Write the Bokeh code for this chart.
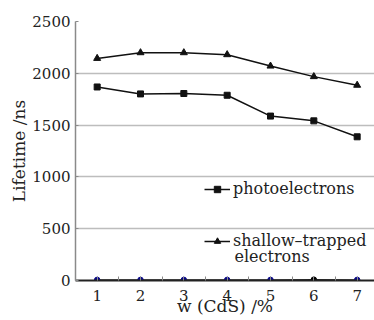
from bokeh.plotting import figure
from bokeh.models import (Range1d, FixedTicker, Legend, LegendItem, Label)
from bokeh.embed import file_html
from bokeh.resources import INLINE

# Data
w_cds = [1, 2, 3, 4, 5, 6, 7]
photoelectrons = [1868, 1801, 1805, 1788, 1587, 1541, 1387]
shallow_trapped = [2144, 2199, 2199, 2180, 2070, 1968, 1885]
bottom_series = [6, 6, 6, 6, 6, 8, 6]
bottom_colors = ["#0a0a8a", "#0a0a8a", "#0a0a8a", "#0a0a8a", "#0a0a8a", "#000000", "#0a0a8a"]
y_ticks = [0, 500, 1000, 1500, 2000, 2500]
x_minor = [1.5, 2.5, 3.5, 4.5, 5.5, 6.5]

FONT = "DejaVu Serif"

p = figure(width=374, height=320, output_backend="svg", toolbar_location=None,
           x_range=Range1d(0.5, 7.4), y_range=Range1d(0, 2500),
           min_border_left=75, min_border_right=0, min_border_top=21,
           min_border_bottom=40)
p.outline_line_color = None
p.background_fill_color = "white"
p.border_fill_color = "white"

# grid
p.xgrid.grid_line_color = None
p.ygrid.grid_line_color = "#bdbdbd"
p.ygrid.grid_line_width = 1.6

# x axis
xa = p.xaxis[0]
xa.ticker = FixedTicker(ticks=w_cds, minor_ticks=x_minor)
xa.axis_line_color = "#222222"
xa.axis_line_width = 2
xa.major_tick_in = 4
xa.major_tick_out = 0
xa.minor_tick_in = 4
xa.minor_tick_out = 0
xa.major_tick_line_color = "#888888"
xa.minor_tick_line_color = "#888888"
xa.major_label_text_font = FONT
xa.major_label_text_font_size = "15px"
xa.major_label_text_color = "#222222"
xa.major_label_standoff = 9
xa.axis_label = "w (CdS) /%"
xa.axis_label_text_font = FONT
xa.axis_label_text_font_size = "17px"
xa.axis_label_text_font_style = "normal"
xa.axis_label_text_color = "#222222"
xa.axis_label_standoff = -8

# y axis
ya = p.yaxis[0]
ya.ticker = FixedTicker(ticks=y_ticks, minor_ticks=[])
ya.axis_line_color = "#8a8a8a"
ya.axis_line_width = 1.5
ya.major_tick_in = 3
ya.major_tick_out = 0
ya.major_tick_line_color = "#8a8a8a"
ya.major_label_text_font = FONT
ya.major_label_text_font_size = "15px"
ya.major_label_text_color = "#222222"
ya.major_label_standoff = 5
ya.axis_label = "Lifetime /ns"
ya.axis_label_text_font = FONT
ya.axis_label_text_font_size = "17px"
ya.axis_label_text_font_style = "normal"
ya.axis_label_text_color = "#222222"
ya.axis_label_standoff = 0

# series
l1 = p.line(w_cds, photoelectrons, line_color="#111111", line_width=1.5)
m1 = p.scatter(w_cds, photoelectrons, marker="square", size=6, color="#111111")
l2 = p.line(w_cds, shallow_trapped, line_color="#111111", line_width=1.5)
m2 = p.scatter(w_cds, shallow_trapped, marker="triangle", size=7, color="#111111")
p.line(w_cds, bottom_series, line_color="#222222", line_width=1.5)
p.scatter(w_cds, bottom_series, marker="circle", size=5.5, color=bottom_colors)

legend = Legend(items=[
    LegendItem(label="photoelectrons", renderers=[l1, m1]),
    LegendItem(label="shallow\u2013trapped", renderers=[l2, m2]),
], location=(129, 30), padding=0, margin=0, spacing=33,
    glyph_width=26, glyph_height=16, label_height=16, label_standoff=3,
    label_text_font=FONT, label_text_font_size="16px", label_text_color="#222222",
    border_line_color=None, background_fill_alpha=0)
p.add_layout(legend)

p.add_layout(Label(x=159, y=24, x_units="screen", y_units="screen", text="electrons",
                   text_font=FONT, text_font_size="16px", text_color="#222222",
                   text_baseline="middle"))

open("out.html", "w").write(file_html(p, INLINE))
